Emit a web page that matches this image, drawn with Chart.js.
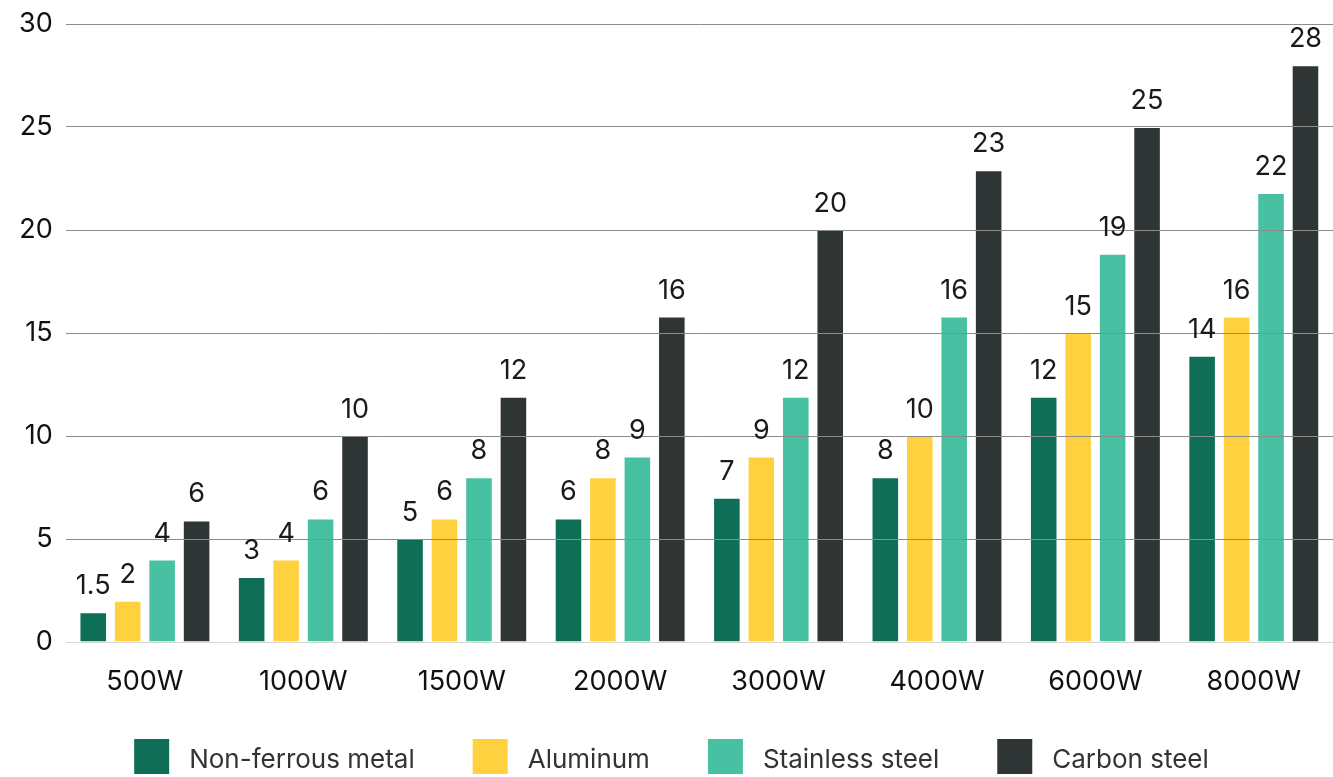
<!DOCTYPE html>
<html>
<head>
<meta charset="utf-8">
<script src="https://cdn.jsdelivr.net/npm/chart.js@4.4.1/dist/chart.umd.min.js"></script>
<style>
html, body { margin: 0; padding: 0; background: #fff; overflow: hidden; }
#wrap { position: relative; width: 1333px; height: 777px; }
</style>
</head>
<body>
<div id="wrap"><canvas id="chart"></canvas></div>
<script>
// Laser power categories
const powers = ['500W', '1000W', '1500W', '2000W', '3000W', '4000W', '6000W', '8000W'];

// Bar heights
const nonFerrous = [1.45, 3.15, 5, 6, 7, 8, 11.9, 13.9];
const aluminum = [2, 4, 6, 8, 9, 10, 15, 15.8];
const stainless = [4, 6, 8, 9, 11.9, 15.8, 18.85, 21.8];
const carbon = [5.9, 10, 11.9, 15.8, 20, 22.9, 25, 28];

// Numbers printed above the bars
const nonFerrousLabels = ['1.5', '3', '5', '6', '7', '8', '12', '14'];
const aluminumLabels = ['2', '4', '6', '8', '9', '10', '15', '16'];
const stainlessLabels = ['4', '6', '8', '9', '12', '16', '19', '22'];
const carbonLabels = ['6', '10', '12', '16', '20', '23', '25', '28'];

const yTicks = [0, 5, 10, 15, 20, 25, 30];

const seriesNames = ['Non-ferrous metal', 'Aluminum', 'Stainless steel', 'Carbon steel'];
const colors = ['#0f6f56', '#ffd13f', '#48c0a2', '#2f3434'];
const valueLabels = [nonFerrousLabels, aluminumLabels, stainlessLabels, carbonLabels];

Chart.defaults.font.family = 'Inter';

// Values above the bars
const barLabels = {
    id: 'barLabels',
    afterDraw(chart) {
        const ctx = chart.ctx;
        ctx.save();
        ctx.font = '27px Inter';
        ctx.fillStyle = '#1a1a1a';
        ctx.textAlign = 'center';
        ctx.textBaseline = 'alphabetic';
        chart.data.datasets.forEach((ds, i) => {
            chart.getDatasetMeta(i).data.forEach((bar, j) => {
                ctx.fillText(valueLabels[i][j], bar.x, bar.y - 18);
            });
        });
        ctx.restore();
    }
};

// Legend row along the bottom edge (the picture cuts it off a little)
const legendRow = {
    id: 'legendRow',
    afterDraw(chart) {
        const ctx = chart.ctx;
        const box = 35;
        const gapText = 20;
        const gapItem = 58;
        ctx.save();
        ctx.font = '26px Inter';
        ctx.textBaseline = 'middle';
        ctx.textAlign = 'left';
        const items = chart.data.datasets.map(ds => ({
            text: ds.label,
            color: ds.backgroundColor,
            width: ctx.measureText(ds.label).width,
        }));
        const total = items.reduce((s, it) => s + box + gapText + it.width, 0)
            + gapItem * (items.length - 1);
        let x = chart.width / 2 + 5 - total / 2;
        const top = chart.height - 38;
        items.forEach(it => {
            ctx.fillStyle = it.color;
            ctx.fillRect(x, top, box, box);
            ctx.fillStyle = '#333';
            ctx.fillText(it.text, x + box + gapText, top + 21);
            x += box + gapText + it.width + gapItem;
        });
        ctx.restore();
    }
};

const chart = new Chart(
    document.getElementById('chart'),
    {
        type: 'bar',
        data: {
            labels: powers,
            datasets: [nonFerrous, aluminum, stainless, carbon].map((values, i) => ({
                label: seriesNames[i],
                data: values,
                backgroundColor: colors[i],
                borderColor: 'rgba(255, 255, 255, 0.3)',
                borderWidth: 1,
                categoryPercentage: 0.87,
                barPercentage: 0.8,
            })),
        },
        options: {
            responsive: true,
            maintainAspectRatio: false,
            animation: false,
            layout: {
                padding: { left: 19, top: 24, right: -4, bottom: 75 },
            },
            scales: {
                x: {
                    grid: { display: false },
                    border: { display: false },
                    ticks: {
                        color: '#111',
                        padding: 25,
                        font: { size: 27, lineHeight: 0.5 },
                    },
                    afterFit: axis => {
                        axis.height = 60;
                    },
                },
                y: {
                    min: 0,
                    max: 30,
                    afterBuildTicks: axis => {
                        axis.ticks = yTicks.map(v => ({ value: v }));
                    },
                    border: { display: false },
                    grid: {
                        z: 1,
                        color: c => c.tick && c.tick.value === 0 ? '#d6d6d6' : '#8c8c8c',
                        tickColor: 'rgba(0, 0, 0, 0)',
                        tickLength: 13,
                    },
                    ticks: {
                        color: '#111',
                        padding: 0,
                        font: { size: 27 },
                    },
                },
            },
            plugins: {
                legend: { display: false },
                tooltip: { enabled: false },
            },
        },
        plugins: [barLabels, legendRow],
    }
);
</script>
</body>
</html>
